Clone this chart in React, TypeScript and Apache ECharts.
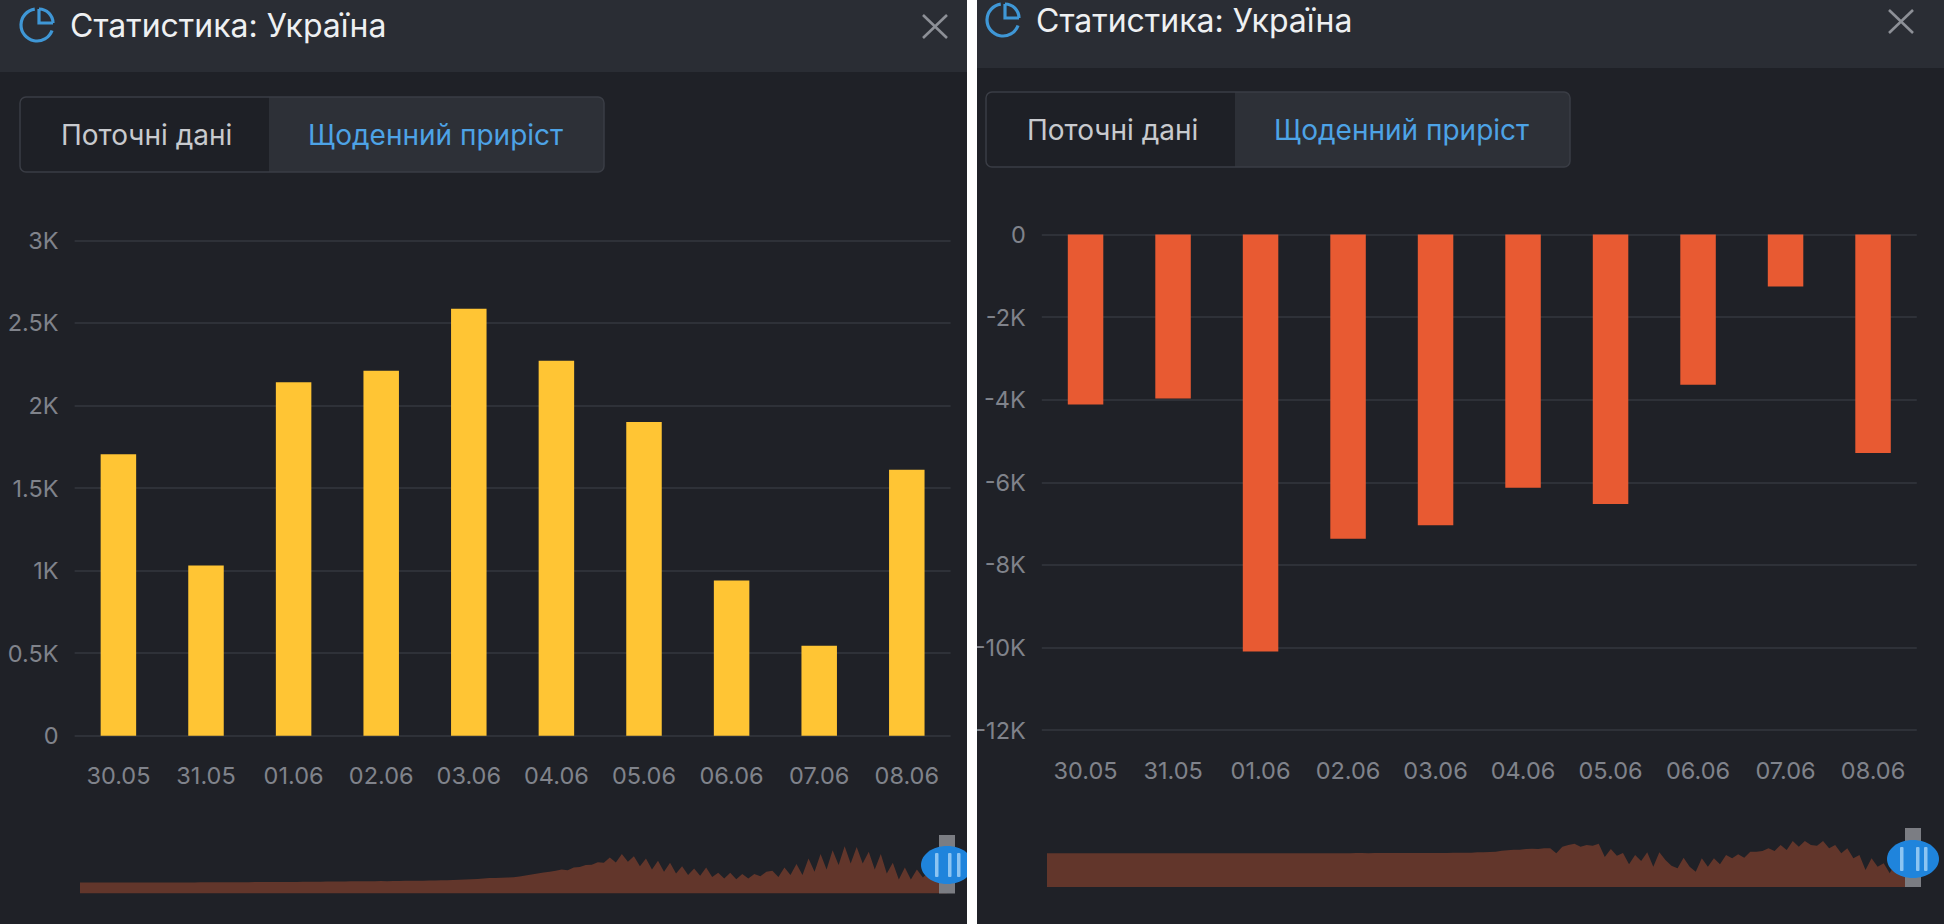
import React, { useEffect, useRef } from "react";
import * as echarts from "echarts";

const dates = ["30.05", "31.05", "01.06", "02.06", "03.06", "04.06", "05.06", "06.06", "07.06", "08.06"];
const dailyCases = [1705, 1030, 2140, 2210, 2585, 2270, 1900, 940, 545, 1610];
const dailyActive = [-4120, -3970, -10100, -7370, -7040, -6135, -6525, -3640, -1260, -5290];

const titleText = "Статистика: Україна";
const tabCurrent = "Поточні дані";
const tabDaily = "Щоденний приріст";

// Full-history overview (thousands), sampled along the time axis
const overviewCases = [
  0, 0, 0, 0, 0, 0, 0, 0, 0, 0, 0, 0, 0, 0, 0, 0, 0, 0, 0, 0, 0.1, 0.1, 0.1, 0.1, 0.1, 0.1, 0.1, 0.1, 0.1, 0.2, 0.2,
  0.2, 0.2, 0.2, 0.2, 0.2, 0.2, 0.3, 0.3, 0.3, 0.3, 0.4, 0.4, 0.4, 0.4, 0.5, 0.5, 0.5, 0.5, 0.5, 0.6, 0.5, 0.6, 0.6,
  0.7, 0.7, 0.8, 0.8, 0.9, 0.9, 1.0, 1.0, 1.1, 1.2, 1.3, 1.4, 1.5,
  1.7, 1.9, 1.9, 2.0, 2.1, 2.3, 2.6, 3.0, 3.4, 3.9, 4.3, 4.6, 5.0, 5.6, 5.3, 6.4, 6.7, 7.5, 7.6, 8.7, 8.5, 10.7, 8.6,
  12.2, 8.9, 11.3, 7.0, 10.3, 5.6, 9.3, 4.6, 8.5, 3.9, 7.0, 3.2, 6.0, 2.9, 6.4, 2.4, 4.2, 1.7, 4.2, 1.4, 3.6, 1.7,
  3.6, 2.7, 4.6, 5.0, 2.4, 6.4, 3.2, 7.9, 3.2, 10.3, 4.6, 12.2, 5.6, 13.9, 7.5, 15.6, 8.2, 15.3, 8.2, 13.2, 5.6, 12.2,
  3.9, 8.5, 1.3, 6.4, 1.3, 5.6, 2.1, 4.6, 3.6, 3.9, 3.2,
];
const overviewActive = [
  0, 0, 0, 0, 0, 0, 0, 0, 0, 0, 0, 0, 0, 0, 0, 0, 0, 0, 0, 0, 0, 0, 0, 0, 0, 0, 0, 0, 0, 0, 0, 0, 0, 0, 0, 0, 0, 0, 0,
  0, 0, 0, 0, 0, 0, 0, 0, 0, 0, 0, 0, 0.1, 0.1, 0, 0.1, 0.1, 0.1, 0.1, 0.1, 0.1, 0.1, 0.1, 0.1, 0.1, 0.1, 0.1,
  0.1, 0.2, 0.2, 0.2, 0.2, 0.3, 0.3, 0.4, 0.5, 0.8, 0.9, 1.1, 1.1, 1.3, 1.4, 1.3, 1.5, 1.5, 0, 2.0, 2.5, 2.9, 2.0,
  2.5, 2.3, 2.9, -1.1, 1.3, -0.7, 0.1, -3.3, -0.5, -2.3, 0.3, -4.0, 0.3, -2.0, -3.7, -4.5, -1.3, -4.0, -5.5, -1.5,
  -4.0, -1.5, -3.3, -0.5, -1.5, -0.3, -1.3, 0.5, 0.5, 0.7, 1.5, 0.7, 2.5, 1.0, 3.7, 2.0, 3.7, 2.5, 2.3, 3.7, 1.5,
  2.5, 0, 1.5, -1.5, -0.5, -5.0, -1.5, -4.0, -3.0, -6.0, -2.5, -5.5, -4.0, -5.5,
];

const FONT = "Inter";
const PANEL = "#1f2127";
const HEADER = "#2a2d34";
const BLUE_TEXT = "#4da3e6";
const LABEL = "#80838b";
const SPLIT = "#2e3138";
const deg = (d: number) => (d * Math.PI) / 180;

const text = (x: number, y: number, t: string, size: number, fill: string) => ({
  type: "text",
  z: 6,
  x,
  y,
  style: { text: t, fontFamily: FONT, fontSize: size, fill, verticalAlign: "middle", align: "left" },
});

function panel(ox: number, w: number, dy: number, headerH: number, hx: number, hy: number, hTop: number, hBottom: number, stripes: number[]) {
  const cx = ox + 37;
  const cy = 25 + dy;
  const iconStroke = { stroke: "#3f97d6", lineWidth: 3.2, fill: "none" };
  const x0 = ox === 0 ? 0 : 977;
  const xStroke = { stroke: "#8d9097", lineWidth: 2.6 };
  return [
    { type: "rect", z: -5, shape: { x: x0, y: 0, width: w, height: 924 }, style: { fill: PANEL } },
    { type: "rect", z: -4, shape: { x: x0, y: 0, width: w, height: headerH }, style: { fill: HEADER } },
    { type: "arc", z: 6, shape: { cx, cy, r: 16, startAngle: deg(20), endAngle: deg(262), clockwise: true }, style: iconStroke },
    { type: "arc", z: 6, shape: { cx: cx + 2, cy: cy - 2, r: 14, startAngle: deg(-90), endAngle: 0, clockwise: true }, style: iconStroke },
    { type: "polyline", z: 6, shape: { points: [[cx + 2, cy - 16], [cx + 2, cy - 2], [cx + 16, cy - 2]] }, style: iconStroke },
    text(ox + 70, 25 + dy, titleText, 32, "#eef0f2"),
    { type: "line", z: 6, shape: { x1: ox + 923, y1: 15 + dy, x2: ox + 947, y2: 38 + dy }, style: xStroke },
    { type: "line", z: 6, shape: { x1: ox + 947, y1: 15 + dy, x2: ox + 923, y2: 38 + dy }, style: xStroke },
    { type: "rect", z: -3, shape: { x: ox + 20, y: 97 + dy, width: 249, height: 75, r: [6, 0, 0, 6] }, style: { fill: "#1e2026" } },
    { type: "rect", z: -3, shape: { x: ox + 269, y: 97 + dy, width: 335, height: 75, r: [0, 6, 6, 0] }, style: { fill: "#2d3037" } },
    { type: "rect", z: -2, shape: { x: ox + 20, y: 97 + dy, width: 584, height: 75, r: 6 }, style: { fill: "none", stroke: "#3a3d45", lineWidth: 1.5 } },
    text(ox + 61, 135 + dy, tabCurrent, 28, "#c8cace"),
    text(ox + 308, 135 + dy, tabDaily, 28, BLUE_TEXT),
    // range-slider handle
    { type: "rect", z: 20, shape: { x: hx - 8, y: hTop, width: 16, height: hBottom - hTop }, style: { fill: "#7b7d83" } },
    { type: "ellipse", z: 21, shape: { cx: hx, cy: hy, rx: 26, ry: 19 }, style: { fill: "#1f84dc" } },
    ...stripes.map((s) => ({
      type: "rect",
      z: 22,
      shape: { x: hx + s, y: hy - 12, width: 3.5, height: 24, r: 1 },
      style: { fill: "#8cc4f2" },
    })),
  ];
}

function App() {
  const ref = useRef<HTMLDivElement>(null);
  useEffect(() => {
    document.body.style.margin = "0";
    const chart = echarts.init(ref.current!, undefined, { renderer: "svg" });
    const axisText = { color: LABEL, fontFamily: FONT, fontSize: 23.5 };
    const catAxis = (gridIndex: number) => ({
      type: "category",
      gridIndex,
      data: dates,
      axisLine: { show: false, onZero: false },
      axisTick: { show: false },
      axisLabel: { ...axisText, margin: 28, interval: 0 },
    });
    const valAxis = (gridIndex: number, min: number, max: number, interval: number, fmt: (v: number) => string) => ({
      type: "value",
      gridIndex,
      min,
      max,
      interval,
      axisLine: { show: false },
      axisTick: { show: false },
      axisLabel: { ...axisText, margin: 16, formatter: fmt },
      splitLine: { show: true, lineStyle: { color: SPLIT, width: 2 } },
    });
    const miniX = (gridIndex: number, data: number[]) => ({
      type: "category",
      gridIndex,
      boundaryGap: false,
      data: data.map((_, i) => i),
      show: false,
    });
    const miniY = (gridIndex: number, min: number, max: number) => ({
      type: "value",
      gridIndex,
      min,
      max,
      show: false,
      splitLine: { show: false },
    });
    const mini = (axisIndex: number, data: number[]) => ({
      type: "line",
      xAxisIndex: axisIndex,
      yAxisIndex: axisIndex,
      data,
      symbol: "none",
      lineStyle: { width: 0 },
      areaStyle: { color: "#62362b", opacity: 1, origin: "start" },
      silent: true,
    });
    chart.setOption({
      animation: false,
      backgroundColor: "#ffffff",
      grid: [
        { left: 74.6, top: 240.3, width: 876, height: 495.4 },
        { left: 1041.8, top: 234.5, width: 875, height: 495.5 },
        { left: 80, top: 840, width: 867, height: 53.5 },
        { left: 1047, top: 832, width: 867, height: 55 },
      ],
      xAxis: [catAxis(0), catAxis(1), miniX(2, overviewCases), miniX(3, overviewActive)],
      yAxis: [
        valAxis(0, 0, 3000, 500, (v) => (v === 0 ? "0" : `${v / 1000}K`)),
        valAxis(1, -12000, 0, 2000, (v) => (v === 0 ? "0" : `${v / 1000}K`)),
        miniY(2, -4.73, 18.27),
        miniY(3, -10.1, 6.4),
      ],
      series: [
        { type: "bar", xAxisIndex: 0, yAxisIndex: 0, data: dailyCases, barWidth: 35.5, itemStyle: { color: "#ffc534" } },
        { type: "bar", xAxisIndex: 1, yAxisIndex: 1, data: dailyActive, barWidth: 35.5, itemStyle: { color: "#e85a32" } },
        mini(2, overviewCases),
        mini(3, overviewActive),
      ],
      graphic: [
        ...panel(0, 967, 0, 72, 947, 865, 835, 893.5, [-12, 1, 10]),
        ...panel(966, 967, -5, 68, 1913, 859, 828, 887, [-13, 3, 11]),
        { type: "rect", z: 30, shape: { x: 967, y: 0, width: 10, height: 924 }, style: { fill: "#ffffff" } },
      ],
    });
    return () => chart.dispose();
  }, []);
  return <div ref={ref} style={{ width: 1944, height: 924 }} />;
}

export default App;
